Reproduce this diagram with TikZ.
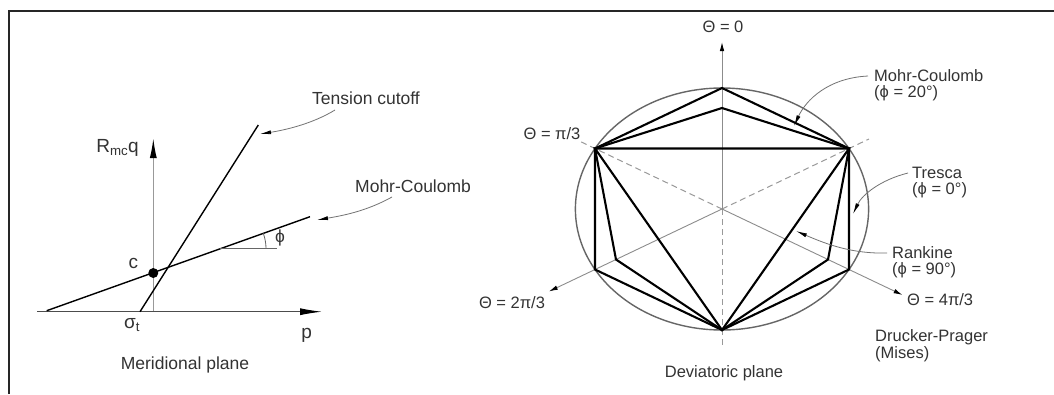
\documentclass[tikz,border=0pt]{standalone}
\usepackage{fontspec}
\setmainfont{Liberation Sans}
\usetikzlibrary{arrows.meta}
\begin{document}
\begin{tikzpicture}[x=1pt,y=1pt,
  lbl/.style={font=\fontsize{16.5}{18}\selectfont, text=black!80, inner sep=0pt},
  mlbl/.style={font=\fontsize{17.5}{19}\selectfont, text=black!80, inner sep=0pt},
  biglbl/.style={font=\fontsize{19}{21}\selectfont, text=black!80, inner sep=0pt},
  poly/.style={line width=2.1pt, line join=miter, draw=black},
  gaxis/.style={draw=black!45, line width=0.9pt},
  dashax/.style={draw=black!40, line width=1pt, dash pattern=on 6pt off 4pt},
  smalltip/.style={-{Latex[length=9pt,width=4.5pt,color=black]}},
  note/.style={draw=black!55, line width=0.8pt, -{Latex[length=11pt,width=4pt,color=black]}},
]
\useasboundingbox (0,0) rectangle (1054,-394);
\fill[white] (0,0) rectangle (1054,-394);
% frame
\coordinate (fbl) at (9,-394);
\coordinate (ftl) at (9,-11);
\coordinate (ftr) at (1054,-11);
\draw[line width=2pt, black!85] (fbl) -- (ftl) -- (ftr);

% ---------------- Meridional plane ----------------
\coordinate (O) at (153.3,-311.7);
\coordinate (qtop) at (153.3,-138);
\coordinate (hl) at (37,-311.7);
\coordinate (hr) at (322,-311.7);
\draw[draw=black!40, line width=1.5pt, -{Latex[length=20pt,width=7pt,color=black]}] (O) -- (qtop);
\draw[draw=black!70, line width=1pt, -{Latex[length=22pt,width=7pt,color=black]}] (hl) -- (hr);
\coordinate (mc1) at (46.7,-310.7);
\coordinate (mc2) at (310,-216.7);
\coordinate (tc1) at (140,-311.7);
\coordinate (tc2) at (258.3,-125);
\draw[line width=1.4pt] (mc1) -- (mc2);
\draw[line width=1.4pt] (tc1) -- (tc2);
\node[circle, fill=black, minimum size=10pt, inner sep=0pt] (cdot) at (153.3,-273) {};
\coordinate (phi0) at (220,-248.8);
\coordinate (phi1) at (277,-248.8);
\draw[black!60, line width=0.8pt] (phi0) -- (phi1);
\draw[black!60, line width=0.8pt] (phi0) ++(0:46) arc (0:19.6:46);

\node[biglbl, anchor=east] (Rq) at (139,-148) {R\textsubscript{mc}q};
\node[biglbl] (clbl) at (133.3,-263) {c};
\node[biglbl] (sig) at (132,-325) {σ\textsubscript{t}};
\node[biglbl] (plbl) at (306.7,-335) {p};
\node[mlbl] (philbl) at (280,-238) {ϕ};
\node[mlbl] (mer) at (185,-365) {Meridional plane};
\node[mlbl] (tens) at (366,-98) {Tension cutoff};
\node[mlbl, anchor=west] (mcm) at (355,-186) {Mohr-Coulomb};

\coordinate (tcs) at (335,-110);
\coordinate (tct) at (260,-134);
\draw[note] (tcs) .. controls (312,-124) and (285,-130) .. (tct);
\coordinate (mms) at (392,-197);
\coordinate (mmt) at (317,-220);
\draw[note] (mms) .. controls (365,-212) and (340,-216) .. (mmt);

% ---------------- Deviatoric plane ----------------
\begin{scope}[shift={(722,-209)}, x=1.212pt, y=1pt]
  \coordinate (C) at (0,0);
  \foreach \a in {30,90,150,210,270,330} {\coordinate (T\a) at (\a:121);}
  \foreach \a in {90,210,330} {\coordinate (M\a) at (\a:101);}
  \coordinate (A0) at (90:167);
  \coordinate (A2) at (210:165);
  \coordinate (A4) at (330:172);
  \coordinate (D150) at (150:135);
  \coordinate (D30) at (30:140);
  \coordinate (D270) at (270:138);
\end{scope}
\draw[dashax] (C) -- (D150);
\draw[dashax] (C) -- (D30);
\draw[dashax] (C) -- (D270);
\draw[gaxis, smalltip] (C) -- (A0);
\draw[gaxis, smalltip] (C) -- (A2);
\draw[gaxis, smalltip] (C) -- (A4);
\draw[draw=black!60, line width=1.4pt] (C) ellipse [x radius=146.6pt, y radius=121pt];
% Tresca
\draw[poly] (T90) -- (T150) -- (T210) -- (T270) -- (T330) -- (T30) -- cycle;
% Mohr-Coulomb
\draw[poly] (M90) -- (T150) -- (M210) -- (T270) -- (M330) -- (T30) -- cycle;
% Rankine
\draw[poly] (T150) -- (T30) -- (T270) -- cycle;

\node[lbl] (th0) at (723,-27) {Θ = 0};
\node[lbl] (th1) at (552,-134) {Θ = π/3};
\node[lbl] (th2) at (512,-303) {Θ = 2π/3};
\node[lbl, anchor=west] (th4) at (907,-300) {Θ = 4π/3};
\node[lbl] (dev) at (724,-373) {Deviatoric plane};

\node[lbl, anchor=west] (mcd) at (874,-76) {Mohr-Coulomb};
\node[lbl, anchor=west] (mcd2) at (874,-93) {(ϕ = 20°)};
\node[lbl, anchor=west] (tre) at (912,-173) {Tresca};
\node[lbl, anchor=west] (tre2) at (912,-190) {(ϕ = 0°)};
\node[lbl, anchor=west] (ran) at (892,-253) {Rankine};
\node[lbl, anchor=west] (ran2) at (892,-270) {(ϕ = 90°)};
\node[lbl, anchor=west] (dp) at (875,-337) {Drucker-Prager};
\node[lbl, anchor=west] (dp2) at (875,-354) {(Mises)};

\coordinate (mcds) at (868,-76);
\coordinate (mcdt) at (794,-126);
\draw[note] (mcds) .. controls (828,-78) and (806,-100) .. (mcdt);
\coordinate (tres) at (908,-173);
\coordinate (tret) at (853,-214);
\draw[note] (tres) .. controls (880,-180) and (862,-195) .. (tret);
\coordinate (rans) at (887,-253);
\coordinate (rant) at (796,-231);
\draw[note] (rans) .. controls (852,-254) and (826,-244) .. (rant);
\end{tikzpicture}
\end{document}
